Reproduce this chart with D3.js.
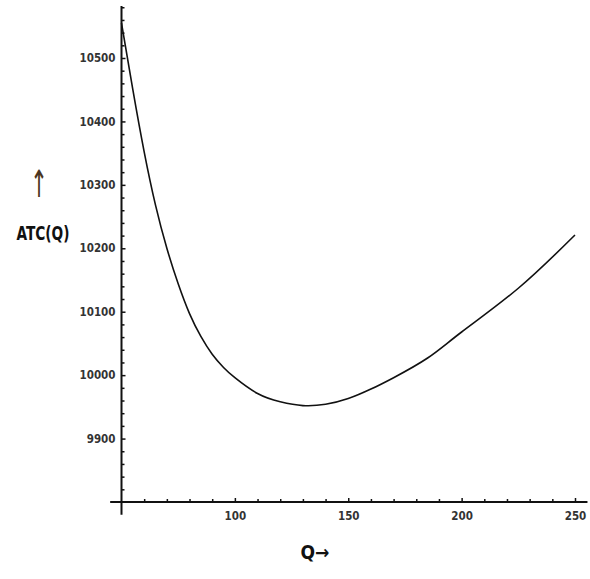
<!DOCTYPE html>
<html>
<head>
<meta http-equiv="Content-Type" content="text/html;charset=utf-8"/>
<style>
  body { margin: 0; background: #fff; }
  .tick text { font-family: "DejaVu Sans Condensed", "DejaVu Sans", sans-serif; font-weight: bold; font-size: 11.5px; fill: #333; }
</style>
</head>
<body>
  <svg id="atc-svg"></svg>
  <script src="https://d3js.org/d3.v7.min.js"></script>
  <script>
  // Values
  var quantity = [50, 55, 60, 65, 70, 75, 80, 85, 90, 95, 100, 110, 120, 130, 140, 150, 160, 170, 185, 200, 225, 250];
  var atc = [10555, 10450, 10352, 10268, 10200, 10144, 10097, 10061, 10033, 10012, 9996, 9971, 9958, 9952, 9954, 9963, 9978, 9996, 10027, 10068, 10137, 10221];
  var xTickValues = [100, 150, 200, 250];
  var yTickValues = [9900, 10000, 10100, 10200, 10300, 10400, 10500];

  var config = {
    svgWidth: 590,
    svgHeight: 579,
    minorX: 10,  // minor tick step on Q axis
    minorY: 20,  // minor tick step on ATC axis
  };

  var svg = d3.select('#atc-svg')
    .attr('width', config.svgWidth)
    .attr('height', config.svgHeight);

  var x = d3.scaleLinear().domain([50, 250]).range([121.5, 575]);
  var y = d3.scaleLinear().domain([9800, 10500]).range([502, 58]);

  var minorXTicks = d3.range(60, 251, config.minorX).filter(function(d) { return xTickValues.indexOf(d) < 0; });
  var minorYTicks = d3.range(9820, 10581, config.minorY).filter(function(d) { return yTickValues.indexOf(d) < 0; });

  // x axis: minor ticks then labelled ticks, all pointing up
  svg.append('g')
    .attr('transform', 'translate(0,' + y(9800) + ')')
    .call(d3.axisBottom(x).tickValues(minorXTicks).tickSizeInner(-3).tickSizeOuter(0).tickFormat(''))
    .call(function(g) { g.select('.domain').remove(); });
  svg.append('g')
    .attr('transform', 'translate(0,' + y(9800) + ')')
    .call(d3.axisBottom(x).tickValues(xTickValues).tickSizeInner(-4).tickSizeOuter(0).tickPadding(10).tickFormat(d3.format('d')))
    .call(function(g) { g.select('.domain').remove(); });

  // y axis: ticks pointing right, labels on the left
  svg.append('g')
    .attr('transform', 'translate(' + x(50) + ',0)')
    .call(d3.axisLeft(y).tickValues(minorYTicks).tickSizeInner(-3).tickSizeOuter(0).tickFormat(''))
    .call(function(g) { g.select('.domain').remove(); });
  svg.append('g')
    .attr('transform', 'translate(' + x(50) + ',0)')
    .call(d3.axisLeft(y).tickValues(yTickValues).tickSizeInner(-4).tickSizeOuter(0).tickPadding(6).tickFormat(d3.format('d')))
    .call(function(g) { g.select('.domain').remove(); });

  svg.selectAll('.tick line').attr('stroke', '#111').attr('stroke-width', 1.5);

  // axis lines, running a little past the crossing
  svg.append('line')
    .attr('x1', x(45)).attr('x2', x(255.5))
    .attr('y1', y(9800)).attr('y2', y(9800))
    .attr('stroke', '#111').attr('stroke-width', 2);
  svg.append('line')
    .attr('x1', x(50)).attr('x2', x(50))
    .attr('y1', y(10582)).attr('y2', y(9780))
    .attr('stroke', '#111').attr('stroke-width', 2);

  // the ATC curve
  var line = d3.line()
    .x(function(d, i) { return x(quantity[i]); })
    .y(function(d) { return y(d); })
    .curve(d3.curveNatural);
  svg.append('path')
    .attr('d', line(atc))
    .attr('fill', 'none')
    .attr('stroke', '#111')
    .attr('stroke-width', 1.6);

  // axis titles
  svg.append('text')
    .attr('x', 315).attr('y', 559)
    .attr('text-anchor', 'middle')
    .attr('font-family', '"Liberation Sans Narrow", "DejaVu Sans Condensed", sans-serif')
    .attr('font-weight', 'bold')
    .attr('font-size', '19px')
    .attr('fill', '#111')
    .text('Q→');

  svg.append('text')
    .attr('x', 43).attr('y', 240)
    .attr('text-anchor', 'middle')
    .attr('font-family', '"Liberation Sans Narrow", "DejaVu Sans Condensed", sans-serif')
    .attr('font-weight', 'bold')
    .attr('font-size', '19px')
    .attr('textLength', 53)
    .attr('lengthAdjust', 'spacingAndGlyphs')
    .attr('fill', '#111')
    .text('ATC(Q)');

  svg.append('text')
    .attr('transform', 'translate(39,197) scale(0.7,1.25)')
    .attr('text-anchor', 'middle')
    .attr('font-family', '"DejaVu Sans", sans-serif')
    .attr('font-size', '30px')
    .attr('fill', '#4a3520')
    .text('↑');
  </script>
</body>
</html>
